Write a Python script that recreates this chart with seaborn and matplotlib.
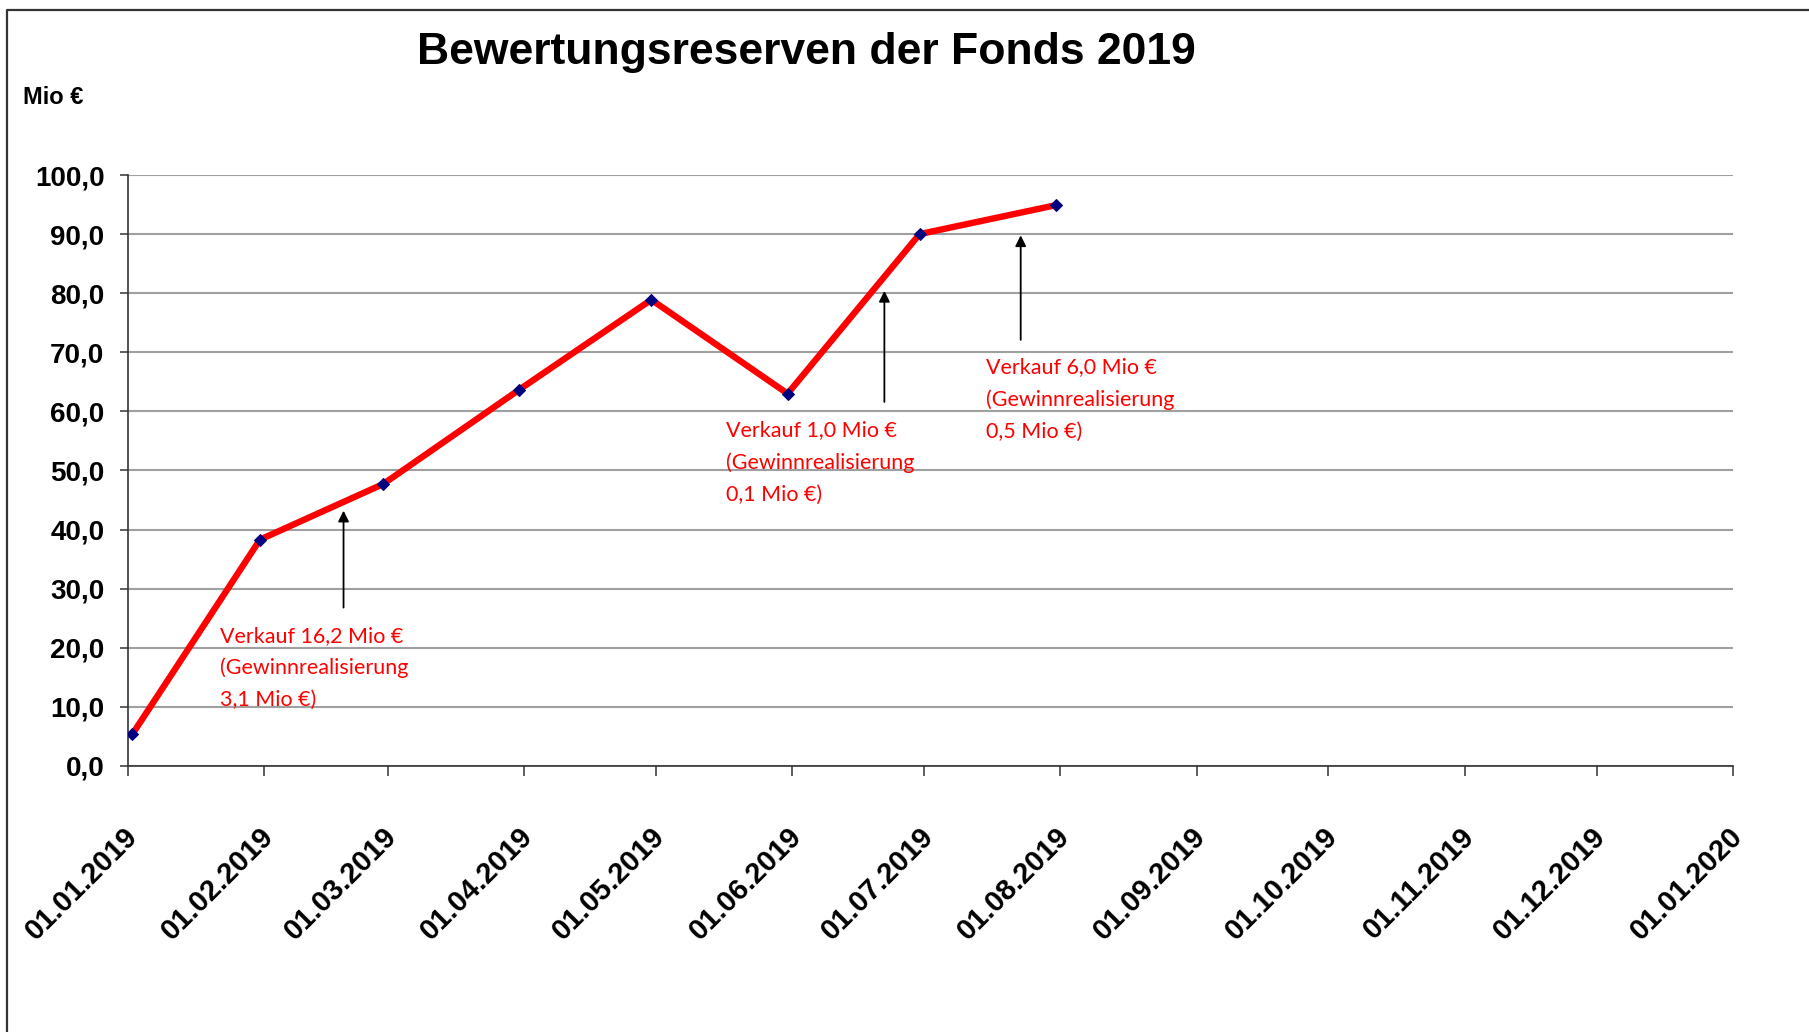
import pandas as pd
import matplotlib
matplotlib.use("Agg")
import matplotlib.pyplot as plt
import matplotlib.dates as mdates
from matplotlib.ticker import FuncFormatter
from matplotlib.lines import Line2D
from matplotlib.transforms import ScaledTranslation
import seaborn as sns

# Bewertungsreserven (Mio €) je Stichtag
stichtage = ["2019-01-02", "2019-01-31", "2019-02-28", "2019-03-31",
             "2019-04-30", "2019-05-31", "2019-06-30", "2019-07-31"]
reserven = [5.4, 38.3, 47.7, 63.7, 78.9, 63.0, 90.0, 94.9]

# Achsen
monate = pd.date_range("2019-01-01", "2020-01-01", freq="MS")
y_ticks = [0, 10, 20, 30, 40, 50, 60, 70, 80, 90, 100]

# Verkaeufe mit Gewinnrealisierung
verkauf_texte = ["Verkauf 16,2 Mio €\n(Gewinnrealisierung\n3,1 Mio €)",
                 "Verkauf 1,0 Mio €\n(Gewinnrealisierung\n0,1 Mio €)",
                 "Verkauf 6,0 Mio €\n(Gewinnrealisierung\n0,5 Mio €)"]
verkauf_datum = ["2019-02-19", "2019-06-22", "2019-07-23"]
pfeil_spitze = [43.2, 80.4, 89.8]
pfeil_ende = [26.8, 61.6, 72.1]
text_datum = ["2019-01-22", "2019-05-17", "2019-07-15"]
text_hoehe = [22.2, 56.9, 67.6]

df = pd.DataFrame({"datum": pd.to_datetime(stichtage), "reserve": reserven})

sns.set_style("white")
plt.rcParams["font.family"] = ["Liberation Sans", "DejaVu Sans"]
plt.rcParams["text.color"] = "black"

fig = plt.figure(figsize=(18.09, 10.32), dpi=100)
ax = fig.add_axes([0.0708, 0.2578, 0.8872, 0.5726])

sns.lineplot(data=df, x="datum", y="reserve", ax=ax, color="#ff0000", lw=4.6,
             marker="D", markersize=6.5, markerfacecolor="#000080",
             markeredgecolor="#000080", zorder=3)

ax.set_xlim(pd.Timestamp("2019-01-01"), pd.Timestamp("2020-01-01"))
ax.set_ylim(0, 100)
ax.set_xticks(monate)
ax.xaxis.set_major_formatter(mdates.DateFormatter("%d.%m.%Y"))
ax.set_yticks(y_ticks)
ax.yaxis.set_major_formatter(FuncFormatter(lambda v, p: f"{v:.1f}".replace(".", ",")))
ax.set_xlabel("")
ax.set_ylabel("")

ax.grid(axis="y", color="#a0a0a0", lw=1.5)
ax.grid(axis="x", visible=False)
ax.set_axisbelow(True)
sns.despine(ax=ax)
for s in ["left", "bottom"]:
    ax.spines[s].set_color("#333333")
    ax.spines[s].set_linewidth(1.2)

ax.tick_params(axis="x", length=7, width=1.1, color="#333333", pad=40,
               labelsize=21, labelcolor="black", bottom=True)
ax.tick_params(axis="y", length=6, width=1.1, color="#333333", pad=11,
               labelsize=20, labelcolor="black", left=True)
verschiebung = ScaledTranslation(0.05, -0.01, fig.dpi_scale_trans)
for lbl in ax.get_xticklabels():
    lbl.set_rotation(45)
    lbl.set_ha("right")
    lbl.set_va("center")
    lbl.set_rotation_mode("anchor")
    lbl.set_fontweight("bold")
    lbl.set_transform(lbl.get_transform() + verschiebung)
for lbl in ax.get_yticklabels():
    lbl.set_fontweight("bold")

for d, tip, tail in zip(verkauf_datum, pfeil_spitze, pfeil_ende):
    ax.annotate("", xy=(pd.Timestamp(d), tip), xytext=(pd.Timestamp(d), tail),
                arrowprops=dict(arrowstyle="-|>", color="black", lw=1.3,
                                mutation_scale=16, shrinkA=0, shrinkB=0))

for txt, d, h in zip(verkauf_texte, text_datum, text_hoehe):
    ax.text(pd.Timestamp(d), h + 1.55, txt, color="#ff0000", fontsize=15.5,
            family=["Lato", "DejaVu Sans"], va="top", ha="left", linespacing=1.72)

fig.text(0.4456, 0.9496, "Bewertungsreserven der Fonds 2019", ha="center",
         va="center", fontsize=32, fontweight="bold", color="black")
fig.text(0.0127, 0.906, "Mio €", ha="left", va="center", fontsize=17,
         fontweight="bold", color="black")

# Rahmen (links und oben)
fig.add_artist(Line2D([7 / 1809, 7 / 1809, 1], [0, 1 - 10 / 1032, 1 - 10 / 1032],
                      transform=fig.transFigure, color="#333333", lw=1.6))

fig.savefig("out.png", dpi=100)
